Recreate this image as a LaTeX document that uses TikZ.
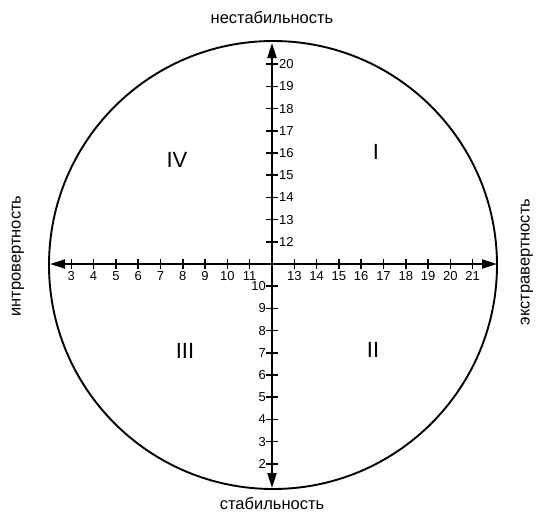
\documentclass[tikz,border=0pt]{standalone}
\usepackage{fontspec}
\setmainfont{Liberation Sans}
\usetikzlibrary{arrows.meta}
\tikzset{
  axisline/.style={line width=1.9pt,-{Triangle[length=15pt,width=9pt]}},
  tickmark/.style={line width=1.5pt},
  numlbl/.style={font=\fontsize{13}{13}\selectfont,inner sep=1pt},
  quadlbl/.style={font=\fontsize{22}{22}\selectfont,inner sep=0pt},
  poletext/.style={font=\fontsize{16.5}{16.5}\selectfont,inner sep=0pt}
}
\begin{document}
\begin{tikzpicture}[x=1pt,y=-1pt]
\useasboundingbox (0,0) rectangle (542,515);
\node[circle,draw,line width=1.9pt,minimum size=448pt,inner sep=0pt] (circ) at (273,265) {};
\coordinate (O) at (272,264);
\coordinate (L) at (50,264);
\coordinate (R) at (497,264);
\coordinate (T) at (272,43);
\coordinate (B) at (272,488);
\draw[axisline] (O) -- (L);
\draw[axisline] (O) -- (R);
\draw[axisline] (O) -- (T);
\draw[axisline] (O) -- (B);
% horizontal ticks
\foreach \v in {3,...,11,13,14,...,21}{
  \coordinate (h\v) at ({272+(\v-12)*22.3},264);
  \draw[tickmark] ([yshift=-5pt]h\v) -- ([yshift=5pt]h\v);
  \node[numlbl,anchor=north] (hl\v) at ([yshift=-6pt]h\v) {\v};
}
% vertical ticks upper
\foreach \v in {12,...,20}{
  \coordinate (u\v) at (272,{264-(\v-11)*22.2});
  \draw[tickmark] ([xshift=-6pt]u\v) -- ([xshift=6pt]u\v);
  \node[numlbl,anchor=west] (ul\v) at ([xshift=6pt]u\v) {\v};
}
% vertical ticks lower
\foreach \v in {2,...,10}{
  \coordinate (d\v) at (272,{264+(11-\v)*22.2});
  \draw[tickmark] ([xshift=-6pt]d\v) -- ([xshift=6pt]d\v);
  \node[numlbl,anchor=east] (dl\v) at ([xshift=-5pt]d\v) {\v};
}
\node[quadlbl] (q4) at (177,160) {IV};
\node[quadlbl] (q1) at (376,152) {I};
\node[quadlbl] (q3) at (185,351) {III};
\node[quadlbl] (q2) at (373,350) {II};
\node[poletext] (top) at (272,18) {нестабильность};
\node[poletext] (bot) at (272,504) {стабильность};
\node[poletext,rotate=90] (left) at (18,256) {интровертность};
\node[poletext,rotate=90] (right) at (527,262) {экстравертность};
\end{tikzpicture}
\end{document}
